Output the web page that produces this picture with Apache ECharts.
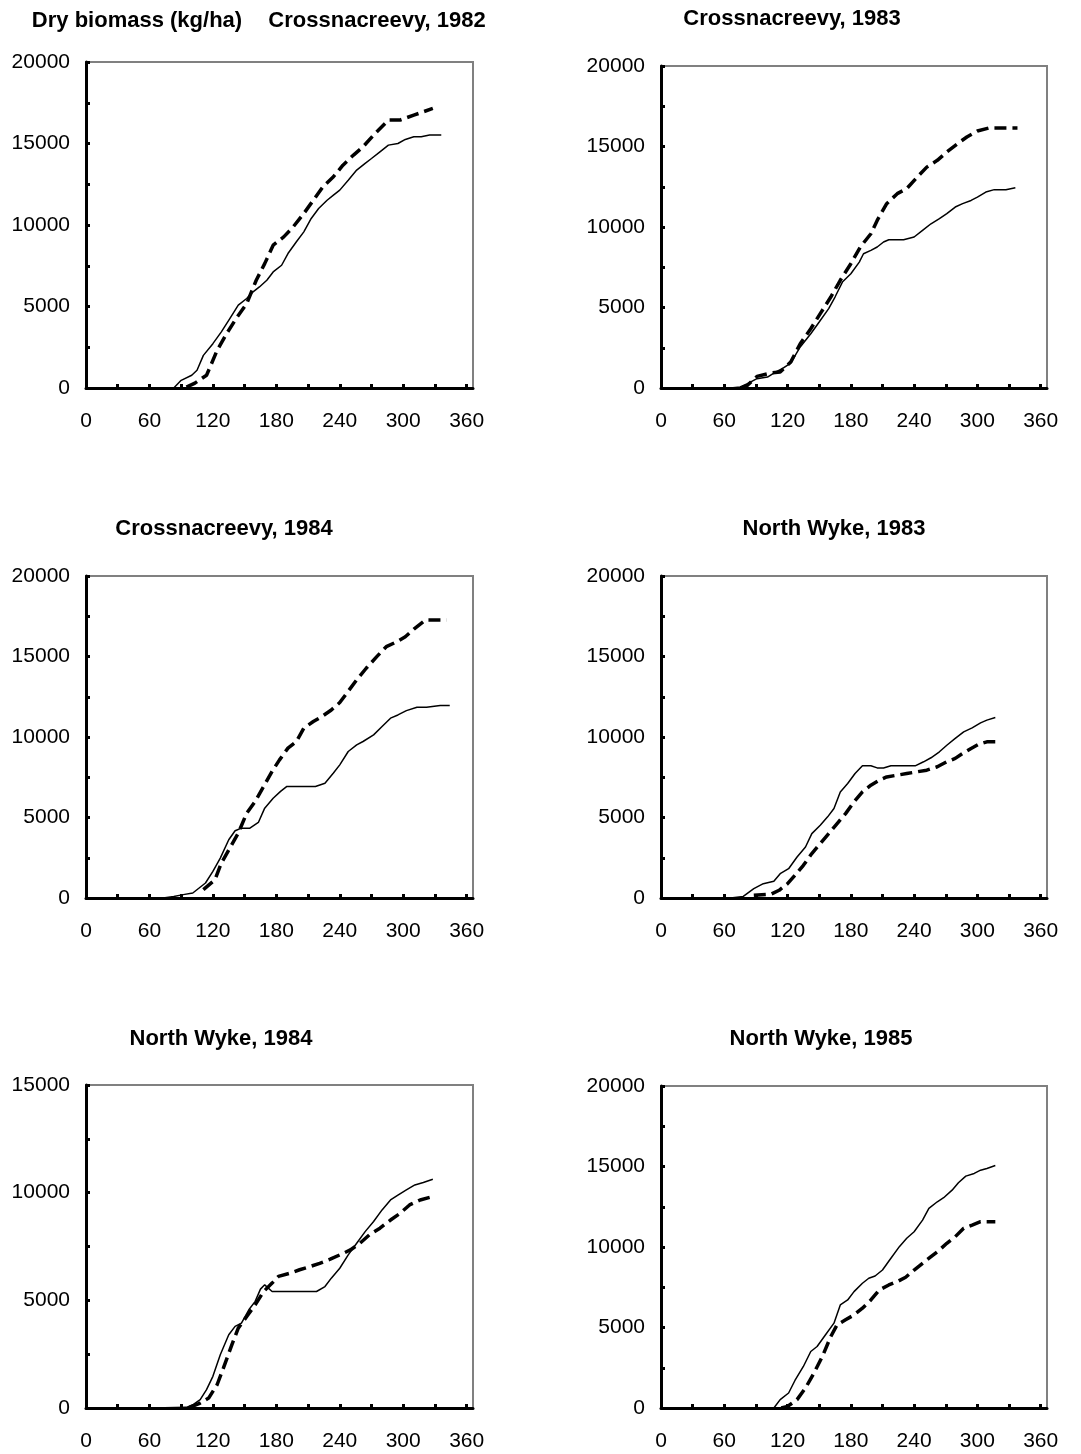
<!DOCTYPE html>
<html>
<head>
<meta charset="utf-8">
<script src="https://cdn.jsdelivr.net/npm/echarts@6/dist/echarts.min.js"></script>
<style>
  html, body { margin: 0; padding: 0; background: #fff; }
  #main { width: 1081px; height: 1454px; }
</style>
</head>
<body>
<div id="main"></div>
<script>
// x ticks and labels (days)
var dayTicks = [0, 30, 60, 90, 120, 150, 180, 210, 240, 270, 300, 330, 360];
var dayLabels = [0, 60, 120, 180, 240, 300, 360];

// panel titles
var titles = ["Crossnacreevy, 1982", "Crossnacreevy, 1983", "Crossnacreevy, 1984",
              "North Wyke, 1983", "North Wyke, 1984", "North Wyke, 1985"];
var yLabel = "Dry biomass (kg/ha)";
var yMax = [20000, 20000, 20000, 20000, 15000, 20000];

// [day, kg/ha]; solid = first curve, dashed = second curve
var cro82Solid = [[70,0],[83,0],[90,470],[100,780],[105,1085],[111,2000],[120,2720],[128,3440],[136,4260],[144,5080],[152,5490],[158,5900],[164,6200],[171,6610],[177,7120],[185,7530],[191,8250],[199,8970],[206,9580],[213,10400],[220,11010],[228,11520],[234,11830],[240,12140],[248,12750],[256,13370],[264,13780],[270,14080],[278,14490],[286,14900],[295,15000],[302,15250],[310,15410],[317,15410],[325,15520],[336,15520]];
var cro82Dashed = [[95,50],[103,300],[114,780],[124,2310],[133,3340],[142,4260],[152,5180],[161,6610],[169,7630],[177,8760],[187,9270],[196,9890],[206,10710],[215,11520],[224,12340],[234,12960],[243,13670],[253,14290],[262,14800],[272,15520],[286,16440],[297,16440],[310,16740],[328,17150]];

var cro83Solid = [[66,0],[75,60],[82,270],[91,580],[101,680],[107,930],[115,1200],[123,1550],[132,2550],[142,3370],[150,4100],[159,4930],[165,5650],[172,6580],[180,7100],[188,7820],[192,8340],[199,8550],[205,8760],[211,9070],[216,9210],[230,9210],[240,9380],[248,9790],[256,10200],[264,10520],[271,10830],[279,11240],[286,11450],[294,11650],[300,11860],[308,12170],[316,12320],[327,12320],[336,12440]];
var cro83Dashed = [[76,0],[82,165],[91,720],[104,930],[113,1000],[123,1610],[132,2750],[142,3680],[151,4620],[161,5650],[170,6690],[180,7720],[189,8760],[199,9580],[205,10410],[214,11450],[224,12070],[233,12380],[243,13100],[252,13720],[262,14140],[271,14660],[281,15170],[290,15590],[300,15960],[311,16150],[325,16150],[338,16150]];

var cro84Solid = [[73,0],[83,100],[92,210],[101,310],[113,930],[120,1650],[127,2480],[135,3620],[141,4180],[147,4340],[155,4340],[163,4690],[169,5580],[177,6200],[184,6620],[190,6930],[202,6930],[217,6930],[226,7130],[234,7760],[240,8270],[248,9100],[256,9510],[262,9720],[272,10130],[280,10650],[288,11170],[295,11370],[303,11640],[313,11850],[322,11850],[335,11950],[344,11950]];
var cro84Dashed = [[111,520],[122,1140],[128,2170],[136,3100],[144,4030],[152,5270],[160,6000],[168,6930],[176,7860],[183,8580],[191,9310],[199,9720],[206,10550],[215,10960],[224,11310],[232,11680],[240,12140],[247,12760],[256,13550],[265,14270],[275,14990],[284,15610],[294,15920],[302,16230],[311,16750],[321,17270],[341,17270]];

var nw83Solid = [[66,0],[78,100],[88,580],[97,890],[107,1040],[113,1510],[121,1820],[129,2550],[137,3170],[143,4000],[151,4520],[158,5040],[164,5560],[170,6590],[177,7110],[184,7730],[191,8210],[199,8210],[205,8080],[211,8080],[218,8210],[230,8210],[241,8210],[249,8460],[256,8710],[264,9080],[271,9490],[279,9910],[287,10320],[295,10570],[303,10880],[309,11050],[317,11210]];
var nw83Dashed = [[88,165],[104,230],[112,480],[120,890],[127,1410],[135,2030],[143,2760],[151,3380],[159,4000],[167,4620],[175,5240],[183,5970],[191,6590],[199,7010],[207,7320],[214,7520],[224,7630],[233,7730],[243,7840],[252,7940],[262,8150],[271,8460],[279,8670],[286,8980],[294,9290],[301,9540],[309,9700],[317,9700]];

var nw84Solid = [[64,0],[95,30],[101,150],[108,390],[114,850],[120,1470],[127,2470],[135,3400],[141,3790],[147,3940],[154,4560],[160,4950],[165,5520],[169,5720],[176,5410],[187,5410],[202,5410],[218,5410],[226,5640],[232,6030],[240,6490],[248,7110],[256,7650],[264,8190],[272,8660],[280,9200],[288,9660],[295,9890],[303,10130],[311,10360],[319,10470],[328,10620]];
var nw84Dashed = [[98,30],[108,230],[116,460],[124,1080],[130,1860],[138,2940],[144,3710],[152,4250],[160,4790],[168,5410],[176,5800],[182,6110],[193,6260],[202,6420],[212,6570],[221,6720],[231,6910],[240,7110],[250,7340],[259,7650],[268,8040],[278,8350],[288,8730],[297,9040],[306,9430],[316,9660],[328,9820]];

var nw85Solid = [[107,0],[113,520],[121,930],[127,1710],[135,2580],[142,3510],[148,3820],[156,4550],[164,5270],[170,6400],[177,6710],[183,7230],[191,7750],[197,8060],[203,8200],[210,8570],[218,9300],[226,10020],[233,10540],[240,10950],[248,11670],[254,12400],[262,12810],[268,13060],[276,13530],[282,13990],[289,14400],[297,14570],[303,14770],[309,14880],[317,15060]];
var nw85Dashed = [[114,0],[120,100],[129,520],[137,1240],[145,2170],[153,3200],[161,4440],[167,5170],[175,5480],[183,5780],[191,6200],[199,6710],[207,7330],[216,7640],[224,7850],[232,8120],[240,8570],[248,8990],[256,9400],[264,9810],[271,10230],[279,10640],[287,11160],[295,11360],[303,11570],[317,11570]];

var solids = [cro82Solid, cro83Solid, cro84Solid, nw83Solid, nw84Solid, nw85Solid];
var dashes = [cro82Dashed, cro83Dashed, cro84Dashed, nw83Dashed, nw84Dashed, nw85Dashed];

// plot boxes in pixels: left, top, width, height
var boxes = [
  [86, 62, 387, 326],
  [661, 66, 386, 322],
  [86, 576, 387, 322],
  [661, 576, 386, 322],
  [86, 1085, 387, 323],
  [661, 1086, 386, 322]
];
var titlePos = [[377, 22], [792, 20], [224, 530], [834, 530], [221, 1040], [821, 1040]];

var font = "'Liberation Sans', Arial, sans-serif";

var chart = echarts.init(document.getElementById("main"), null, { renderer: "canvas" });

var grid = [], xAxis = [], yAxis = [], series = [], title = [];

title.push({
  text: yLabel,
  left: 137, top: 22 - 12, textAlign: "center", padding: 0,
  textStyle: { fontSize: 22, fontWeight: "bold", fontFamily: font, color: "#000" }
});

for (var i = 0; i < 6; i++) {
  var b = boxes[i];
  grid.push({
    left: b[0], top: b[1], width: b[2], height: b[3],
    show: true, borderColor: "#808080", borderWidth: 2, backgroundColor: "transparent"
  });
  title.push({
    text: titles[i],
    left: titlePos[i][0], top: titlePos[i][1] - 12, textAlign: "center", padding: 0,
    textStyle: { fontSize: 22, fontWeight: "bold", fontFamily: font, color: "#000" }
  });
  xAxis.push({
    type: "value", gridIndex: i, min: 0, max: 366,
    splitLine: { show: false },
    axisLine: { onZero: false, lineStyle: { color: "#000", width: 3 } },
    axisTick: { inside: true, length: 4, lineStyle: { color: "#000", width: 3 }, customValues: dayTicks },
    axisLabel: { margin: 23, fontSize: 21, color: "#000", fontFamily: font, customValues: dayLabels }
  });
  yAxis.push({
    type: "value", gridIndex: i, min: 0, max: yMax[i], interval: 2500,
    splitLine: { show: false },
    axisLine: { show: true, onZero: false, lineStyle: { color: "#000", width: 3 } },
    axisTick: { show: true, inside: true, length: 4, lineStyle: { color: "#000", width: 3 } },
    axisLabel: {
      margin: 16, fontSize: 21, color: "#000", fontFamily: font,
      formatter: function (v) { return v % 5000 === 0 ? String(v) : ""; }
    }
  });
  series.push({
    type: "line", xAxisIndex: i, yAxisIndex: i, data: solids[i],
    showSymbol: false, symbol: "none",
    lineStyle: { color: "#000", width: 1.5, type: "solid" }
  });
  series.push({
    type: "line", xAxisIndex: i, yAxisIndex: i, data: dashes[i],
    showSymbol: false, symbol: "none",
    lineStyle: { color: "#000", width: 3.5, type: [12, 6] }
  });
}

chart.setOption({
  animation: false,
  backgroundColor: "#fff",
  title: title,
  grid: grid,
  xAxis: xAxis,
  yAxis: yAxis,
  series: series
});
</script>
</body>
</html>
